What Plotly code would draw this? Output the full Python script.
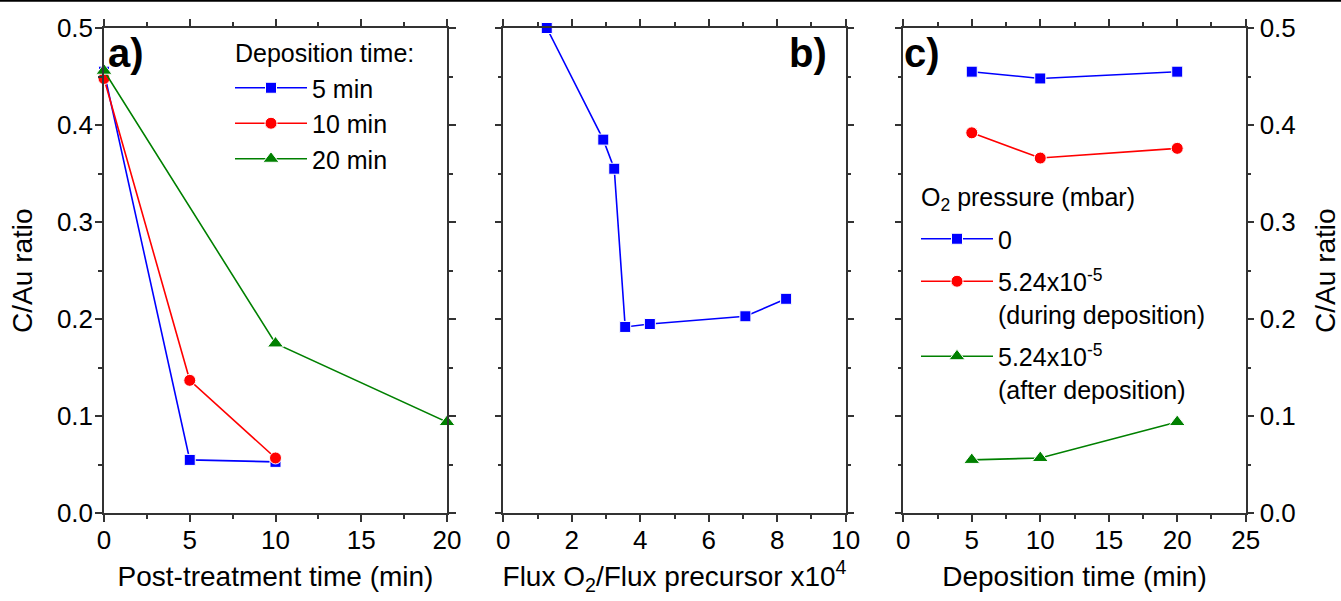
import plotly.graph_objects as go

# ---------------- data ----------------
# Panel a: C/Au ratio vs post-treatment time for different deposition times
post_time_5 = [0, 5, 10]
post_time_10 = [0, 5, 10]
post_time_20 = [0, 10, 20]
a_5min = [0.455, 0.055, 0.053]
a_10min = [0.448, 0.137, 0.057]
a_20min = [0.456, 0.175, 0.094]

# Panel b: C/Au ratio vs flux ratio
flux_ratio = [1.27, 2.92, 3.24, 3.56, 4.28, 7.07, 8.26]
b_ratio = [0.500, 0.385, 0.355, 0.192, 0.195, 0.203, 0.221]

# Panel c: C/Au ratio vs deposition time for different O2 pressures
dep_time = [5, 10, 20]
c_p0 = [0.455, 0.448, 0.455]
c_during = [0.392, 0.366, 0.376]
c_after = [0.055, 0.057, 0.094]

x_ticks_a = [0, 5, 10, 15, 20]
x_ticks_b = [0, 2, 4, 6, 8, 10]
x_ticks_c = [0, 5, 10, 15, 20, 25]
y_ticks = [0.0, 0.1, 0.2, 0.3, 0.4, 0.5]

# ---------------- style ----------------
W, H = 1341, 601
FONT = "Liberation Sans, Arial, sans-serif"
BLUE, RED, GREEN = "#0000FF", "#FF0000", "#008000"
AX = "#333333"


def px_x(p):
    return p / W


def px_y(p):
    return 1 - p / H


y_dom = [px_y(513.3), px_y(28)]
dom_a = [px_x(104), px_x(447)]
dom_b = [px_x(503.3), px_x(845.7)]
dom_c = [px_x(903.3), px_x(1245.7)]

fig = go.Figure()


def add(x, y, color, symbol, size, name, xa, ya, legend=None, show=True, group=None):
    fig.add_trace(go.Scatter(
        x=x, y=y, mode="lines+markers", name=name,
        line=dict(color=color, width=1.6),
        marker=dict(symbol=symbol, size=size, color=color,
                    line=dict(color="white", width=1)),
        xaxis=xa, yaxis=ya, cliponaxis=False,
        showlegend=show, legend=legend, legendgroup=group,
    ))


add(post_time_5, a_5min, BLUE, "square", 11, "5 min", "x", "y", "legend")
add(post_time_10, a_10min, RED, "circle", 12, "10 min", "x", "y", "legend")
add(post_time_20, a_20min, GREEN, "triangle-up", 14, "20 min", "x", "y", "legend")

add(flux_ratio, b_ratio, BLUE, "square", 11, "flux", "x2", "y2", show=False)

add(dep_time, c_p0, BLUE, "square", 11, "0", "x3", "y3", "legend2", group="c0")
add(dep_time, c_during, RED, "circle", 12,
    "5.24x10<sup>-5</sup><br>(during deposition)", "x3", "y3", "legend2", group="c1")
add(dep_time, c_after, GREEN, "triangle-up", 14,
    "5.24x10<sup>-5</sup><br>(after deposition)", "x3", "y3", "legend2", group="c2")

tickfont = dict(family=FONT, size=26, color="black")
titlefont = dict(family=FONT, size=28, color="black")
legfont = dict(family=FONT, size=25, color="black")


def xaxis(dom, rng, ticks, minor_dt, title, anchor):
    return dict(domain=dom, range=rng, tickvals=ticks, anchor=anchor,
                automargin=False,
                showline=True, linecolor=AX, linewidth=1.5, mirror="allticks",
                ticks="outside", ticklen=7, tickwidth=1.5, tickcolor=AX,
                minor=dict(ticks="outside", ticklen=4, tickwidth=1.5,
                           tickcolor=AX, dtick=minor_dt, tick0=0),
                showgrid=False, zeroline=False, tickfont=tickfont,
                ticklabelstandoff=-4,
                title=dict(text=title, font=titlefont, standoff=12))


def yaxis(anchor, side="left", labels=True, title=None, lab_off=0, t_off=16):
    d = dict(domain=y_dom, range=[0, 0.5], tickvals=y_ticks, tickformat=".1f",
             anchor=anchor, side=side, automargin=False,
             showline=True, linecolor=AX, linewidth=1.5, mirror="allticks",
             ticks="outside", ticklen=7, tickwidth=1.5, tickcolor=AX,
             minor=dict(ticks="outside", ticklen=4, tickwidth=1.5,
                        tickcolor=AX, dtick=0.05, tick0=0),
             showgrid=False, zeroline=False, tickfont=tickfont,
             ticklabelstandoff=lab_off,
             showticklabels=labels)
    if title:
        d["title"] = dict(text=title, font=titlefont, standoff=t_off)
    return d


fig.update_layout(
    template="none",
    width=W, height=H,
    margin=dict(l=0, r=0, t=0, b=0, pad=0, autoexpand=False),
    paper_bgcolor="white", plot_bgcolor="white",
    font=dict(family=FONT, color="black"),
    xaxis=xaxis(dom_a, [0, 20], x_ticks_a, 2.5, "Post-treatment time (min)", "y"),
    xaxis2=xaxis(dom_b, [0, 10], x_ticks_b, 1,
                 "Flux O<sub>2</sub>/Flux precursor x10<sup>4</sup>", "y2"),
    xaxis3=xaxis(dom_c, [0, 25], x_ticks_c, 2.5, "Deposition time (min)", "y3"),
    yaxis=yaxis("x", "left", True, "C/Au ratio", lab_off=-3, t_off=16),
    yaxis2=yaxis("x2", "left", False),
    yaxis3=yaxis("x3", "right", True, "C/Au ratio", lab_off=0, t_off=22),
    legend=dict(x=px_x(230), y=px_y(65), xanchor="left", yanchor="top",
                bgcolor="rgba(0,0,0,0)", borderwidth=0, itemwidth=72,
                font=legfont, tracegroupgap=0),
    legend2=dict(x=px_x(916), y=px_y(216), xanchor="left", yanchor="top",
                 bgcolor="rgba(0,0,0,0)", borderwidth=0, valign="top",
                 itemwidth=72, font=legfont, tracegroupgap=7),
)

# legend headings
fig.add_annotation(text="Deposition time:", x=px_x(233), y=px_y(53),
                   xref="paper", yref="paper", xanchor="left", yanchor="middle",
                   showarrow=False, font=legfont)
fig.add_annotation(text="O<sub>2</sub> pressure (mbar)", x=px_x(919), y=px_y(199),
                   xref="paper", yref="paper", xanchor="left", yanchor="middle",
                   showarrow=False, font=legfont)

# panel labels
for txt, x, anchor in [("a)", 106, "left"), ("b)", 829, "right"), ("c)", 902, "left")]:
    fig.add_annotation(text="<b>%s</b>" % txt, x=px_x(x), y=px_y(53),
                       xref="paper", yref="paper", xanchor=anchor,
                       yanchor="middle", showarrow=False,
                       font=dict(family=FONT, size=40, color="black"))

# thin rule at the very top of the figure
fig.add_shape(type="line", xref="paper", yref="paper", x0=0, x1=1,
              y0=px_y(0.8), y1=px_y(0.8), line=dict(color="black", width=2))

fig.write_html("out.html")
